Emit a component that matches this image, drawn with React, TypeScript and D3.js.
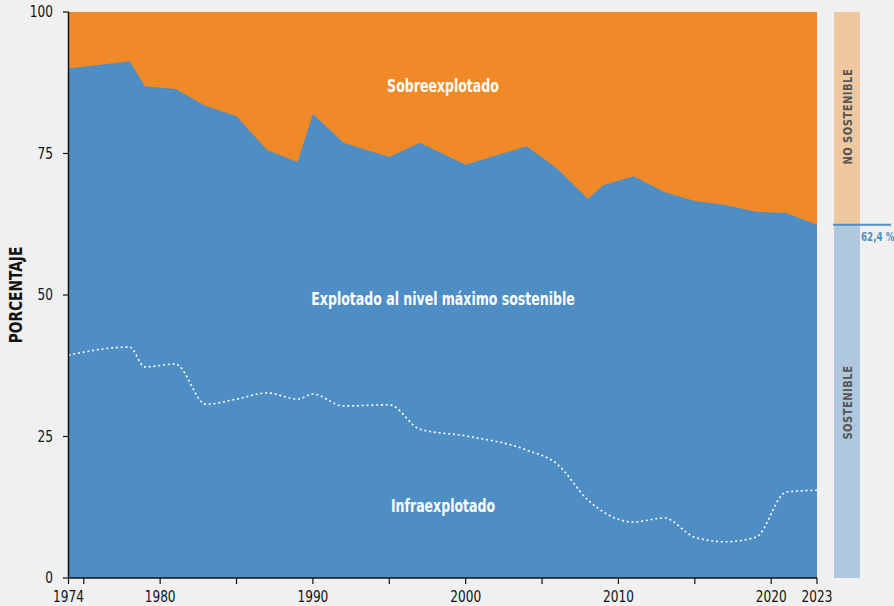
import React from 'react';
import * as d3 from 'd3';

// años con dato
const years = [1974, 1978, 1979, 1981, 1983, 1985, 1987, 1989, 1990, 1992, 1995, 1997, 2000, 2004, 2006, 2008, 2009, 2011, 2013, 2015, 2017, 2019, 2021, 2023];
// % de poblaciones explotadas de forma sostenible (infra + máximo)
const sostenible = [90.0, 91.3, 86.9, 86.4, 83.4, 81.6, 75.6, 73.5, 82.0, 76.9, 74.4, 76.9, 73.0, 76.3, 72.3, 67.0, 69.4, 71.0, 68.2, 66.6, 65.9, 64.7, 64.5, 62.4];
// % de poblaciones infraexplotadas
const infra = [39.4, 40.8, 37.3, 37.8, 30.7, 31.6, 32.7, 31.6, 32.5, 30.4, 30.6, 26.3, 25.1, 22.6, 20.1, 13.8, 11.7, 9.9, 10.6, 7.2, 6.4, 7.2, 15.2, 15.5];

const yTicks = [0, 25, 50, 75, 100];
const xTicks = [1974, 1975, 1980, 1985, 1990, 1995, 2000, 2005, 2010, 2015, 2020, 2023];
const xLabels = [1974, 1980, 1990, 2000, 2010, 2020, 2023];
const ultimo = 62.4;

const W = 894;
const H = 606;
const font = '"DejaVu Sans Condensed", "Roboto", sans-serif';
const ORANGE = '#F08A28';
const BLUE = '#4E8EC4';

// texto estrechado horizontalmente (la fuente original es condensada)
const Narrow = ({ x, y, rot = 0, sx = 0.82, children, ...rest }: any) => (
  <text transform={`translate(${x},${y}) rotate(${rot}) scale(${sx},1)`} {...rest}>{children}</text>
);

export default function App() {
  const x = d3.scaleLinear().domain([1974, 2023]).range([68.5, 817]);
  const y = d3.scaleLinear().domain([0, 100]).range([578, 12]);

  const pts = years.map((yr, i) => ({ yr, s: sostenible[i], u: infra[i] }));

  const areaSost = d3.area<typeof pts[0]>()
    .x(d => x(d.yr))
    .y0(y(0))
    .y1(d => y(d.s))(pts) || '';

  const lineInfra = d3.line<typeof pts[0]>()
    .x(d => x(d.yr))
    .y(d => y(d.u))
    .curve(d3.curveMonotoneX)(pts) || '';

  const barX = 834;
  const barW = 26;

  return (
    <svg width={W} height={H} style={{ position: 'absolute', left: 0, top: 0, display: 'block' }} fontFamily={font}>
      <rect width={W} height={H} fill="#F0F0F0" />
      {/* fondo naranja: sobreexplotado */}
      <rect x={x(1974)} y={y(100)} width={x(2023) - x(1974)} height={y(0) - y(100)} fill={ORANGE} />
      <path d={areaSost} fill={BLUE} />
      <path d={lineInfra} fill="none" stroke="#fff" strokeWidth={1.6} strokeDasharray="2,2.8" />

      <Narrow x={443} y={92} textAnchor="middle" fill="#fff" fontSize={17} fontWeight="bold">Sobreexplotado</Narrow>
      <Narrow x={443} y={305} textAnchor="middle" fill="#fff" fontSize={17} fontWeight="bold">Explotado al nivel máximo sostenible</Narrow>
      <Narrow x={443} y={512} textAnchor="middle" fill="#fff" fontSize={17} fontWeight="bold">Infraexplotado</Narrow>

      {/* eje Y */}
      <line x1={68.5} x2={68.5} y1={y(100)} y2={y(0)} stroke="#111" strokeWidth={1.5} />
      {yTicks.map(t => (
        <g key={t}>
          <line x1={63} x2={68.5} y1={y(t)} y2={y(t)} stroke="#111" strokeWidth={1.2} />
          <Narrow x={53} y={y(t) + 5} sx={0.9} textAnchor="end" fontSize={15} fill="#111">{t}</Narrow>
        </g>
      ))}
      <Narrow x={22} y={y(50)} rot={-90} sx={0.9} textAnchor="middle" fontSize={17} fontWeight="bold" fill="#111">PORCENTAJE</Narrow>

      {/* eje X */}
      <line x1={x(1974)} x2={x(2023)} y1={578} y2={578} stroke="#111" strokeWidth={1.5} />
      {xTicks.map(t => (
        <line key={t} x1={x(t)} x2={x(t)} y1={578} y2={584} stroke="#111" strokeWidth={1.2} />
      ))}
      {xLabels.map(t => (
        <Narrow key={t} x={x(t)} y={602} sx={0.9} textAnchor="middle" fontSize={15} fill="#111">{t}</Narrow>
      ))}

      {/* barra lateral */}
      <rect x={barX} y={y(100)} width={barW} height={y(ultimo) - y(100)} fill="#F0C8A0" />
      <rect x={barX} y={y(ultimo)} width={barW} height={y(0) - y(ultimo)} fill="#B0C8DE" />
      <line x1={833} x2={891} y1={y(ultimo)} y2={y(ultimo)} stroke={BLUE} strokeWidth={2} />
      <Narrow x={861} y={y(ultimo) + 16} sx={0.75} fontSize={13} fontWeight="bold" fill={BLUE}>62,4 %</Narrow>
      <Narrow x={barX + barW / 2 + 5} y={y(81.5)} rot={-90} sx={0.85} textAnchor="middle" fontSize={13} fontWeight="bold" fill="#555" letterSpacing={0.6}>NO SOSTENIBLE</Narrow>
      <Narrow x={barX + barW / 2 + 5} y={y(31)} rot={-90} sx={0.85} textAnchor="middle" fontSize={13} fontWeight="bold" fill="#555" letterSpacing={0.6}>SOSTENIBLE</Narrow>
    </svg>
  );
}
